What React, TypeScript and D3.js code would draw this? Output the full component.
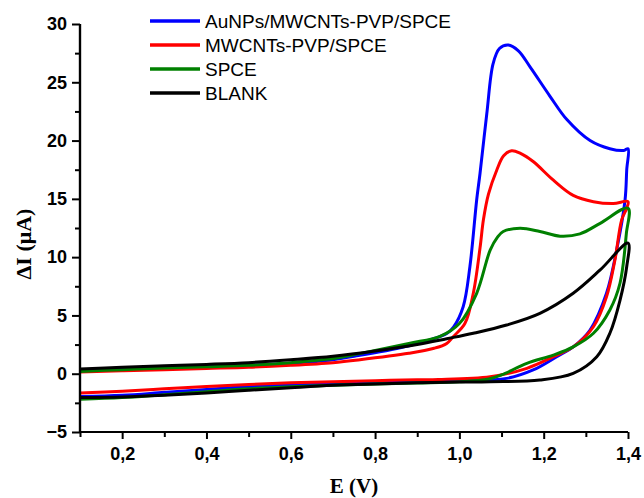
import React, { useEffect, useRef } from "react";
import * as d3 from "d3";

// legend / series
const seriesNames = ["AuNPs/MWCNTs-PVP/SPCE", "MWCNTs-PVP/SPCE", "SPCE", "BLANK"];
const seriesColors = ["#0000ff", "#ff0000", "#008000", "#000000"];

// each curve is one closed loop: forward scan then back scan (E in V, I in µA)
const auE = [0.1, 0.2, 0.3, 0.4, 0.5, 0.6, 0.7, 0.76, 0.88, 0.97, 0.986, 1.009, 1.025, 1.041, 1.049, 1.065, 1.08, 1.095, 1.116, 1.14, 1.168, 1.215, 1.255, 1.31, 1.357, 1.39, 1.4,
  1.397, 1.393, 1.373, 1.349, 1.31, 1.27, 1.231, 1.175, 1.112, 1.0, 0.9, 0.8, 0.7, 0.6, 0.5, 0.4, 0.3, 0.2, 0.1];
const auI = [0.25, 0.38, 0.5, 0.6, 0.72, 0.9, 1.2, 1.55, 2.4, 3.45, 4.0, 5.75, 9.2, 14.9, 17.2, 22.3, 26.6, 27.9, 28.2, 27.7, 26.3, 23.8, 21.8, 20.0, 19.3, 19.15, 19.3,
  17.5, 14.9, 10.6, 6.9, 3.75, 2.3, 1.46, 0.32, -0.4, -0.55, -0.65, -0.72, -0.82, -0.95, -1.1, -1.35, -1.6, -1.85, -1.95];

const mwE = [0.1, 0.2, 0.3, 0.4, 0.5, 0.6, 0.7, 0.76, 0.88, 0.94, 0.97, 0.986, 1.013, 1.033, 1.049, 1.057, 1.069, 1.089, 1.105, 1.124, 1.145, 1.175, 1.223, 1.27, 1.318, 1.365, 1.4,
  1.397, 1.385, 1.369, 1.349, 1.318, 1.27, 1.223, 1.16, 1.073, 0.95, 0.9, 0.8, 0.7, 0.6, 0.5, 0.4, 0.3, 0.2, 0.1];
const mwI = [0.15, 0.25, 0.35, 0.45, 0.55, 0.72, 0.95, 1.18, 1.75, 2.18, 2.6, 3.2, 4.3, 6.9, 10.8, 13.2, 15.4, 17.5, 18.7, 19.13, 18.9, 18.2, 16.6, 15.3, 14.76, 14.6, 14.76,
  14.2, 13.2, 9.76, 6.6, 4.03, 2.3, 1.46, 0.46, -0.26, -0.5, -0.52, -0.6, -0.68, -0.78, -0.92, -1.1, -1.3, -1.5, -1.65];

const spceE = [0.1, 0.2, 0.3, 0.4, 0.5, 0.6, 0.7, 0.76, 0.88, 0.954, 1.0, 1.041, 1.073, 1.09, 1.104, 1.144, 1.191, 1.239, 1.286, 1.334, 1.4,
  1.396, 1.381, 1.357, 1.318, 1.27, 1.223, 1.16, 1.1, 1.07, 1.0, 0.9, 0.8, 0.7, 0.6, 0.5, 0.4, 0.3, 0.2, 0.1];
const spceI = [0.2, 0.35, 0.5, 0.6, 0.72, 0.95, 1.3, 1.7, 2.6, 3.2, 4.3, 6.9, 10.6, 11.7, 12.2, 12.47, 12.2, 11.8, 12.0, 12.9, 14.2,
  12.0, 7.76, 5.47, 3.47, 2.3, 1.6, 0.89, -0.1, -0.45, -0.7, -0.8, -0.88, -0.98, -1.12, -1.3, -1.55, -1.8, -2.05, -2.2];

const blankE = [0.1, 0.2, 0.3, 0.4, 0.5, 0.6, 0.7, 0.8, 0.9, 0.97, 1.033, 1.112, 1.191, 1.27, 1.334, 1.4,
  1.397, 1.381, 1.357, 1.326, 1.27, 1.191, 1.073, 1.0, 0.9, 0.8, 0.7, 0.6, 0.5, 0.4, 0.3, 0.2, 0.1];
const blankI = [0.4, 0.55, 0.68, 0.8, 0.95, 1.2, 1.5, 1.95, 2.5, 3.0, 3.47, 4.18, 5.18, 6.9, 8.9, 11.2,
  9.2, 6.3, 3.47, 1.46, 0.03, -0.54, -0.68, -0.72, -0.78, -0.88, -1.0, -1.2, -1.42, -1.65, -1.85, -2.0, -2.05];

const xTicks = [0.2, 0.4, 0.6, 0.8, 1.0, 1.2, 1.4];
const xMinor = [0.1, 0.3, 0.5, 0.7, 0.9, 1.1, 1.3];
const yTicks = [-5, 0, 5, 10, 15, 20, 25, 30];
const yMinor = [-2.5, 2.5, 7.5, 12.5, 17.5, 22.5, 27.5];

const App = () => {
  const ref = useRef<SVGSVGElement>(null);

  useEffect(() => {
    const svg = d3.select(ref.current);
    svg.selectAll("*").remove();

    const left = 80, right = 628, top = 24, bottom = 432;
    const x = d3.scaleLinear().domain([0.1, 1.4]).range([left, right]);
    const y = d3.scaleLinear().domain([-5, 30]).range([bottom, top]);

    const loops = [
      { E: auE, I: auI },
      { E: mwE, I: mwI },
      { E: spceE, I: spceI },
      { E: blankE, I: blankI },
    ];

    const line = d3
      .line<[number, number]>()
      .x((d) => x(d[0]))
      .y((d) => y(d[1]))
      .curve(d3.curveCatmullRom.alpha(0.5));

    loops.forEach((s, i) => {
      const pts = s.E.map((e, k) => [e, s.I[k]] as [number, number]);
      svg
        .append("path")
        .attr("d", line(pts))
        .attr("fill", "none")
        .attr("stroke", seriesColors[i])
        .attr("stroke-width", 3)
        .attr("stroke-linejoin", "round");
    });

    const tickFont = (g: any) =>
      g
        .selectAll("text")
        .attr("font-family", "'Liberation Sans', Arial, sans-serif")
        .attr("font-weight", "bold")
        .attr("font-size", 18)
        .attr("fill", "#000");

    // x axis
    const gx = svg.append("g").attr("transform", `translate(0,${bottom})`);
    gx.call(
      d3.axisBottom(x).tickValues(xMinor).tickSize(5).tickFormat(() => "")
    );
    gx.append("g").call(
      d3
        .axisBottom(x)
        .tickValues(xTicks)
        .tickSize(7)
        .tickPadding(8)
        .tickFormat((d) => (d as number).toFixed(1).replace(".", ","))
    );
    gx.selectAll("path").attr("stroke-width", 2.2).attr("stroke", "#000");
    gx.selectAll("line").attr("stroke-width", 2).attr("stroke", "#000");
    tickFont(gx);
    gx.selectAll(".domain").attr("d", `M${left},0H${right}`);

    // y axis
    const gy = svg.append("g").attr("transform", `translate(${left},0)`);
    gy.call(
      d3.axisLeft(y).tickValues(yMinor).tickSize(5).tickFormat(() => "")
    );
    gy.append("g").call(
      d3.axisLeft(y).tickValues(yTicks).tickSize(8).tickPadding(5).tickFormat(d3.format("d"))
    );
    gy.selectAll("path").attr("stroke-width", 2.2).attr("stroke", "#000");
    gy.selectAll("line").attr("stroke-width", 2).attr("stroke", "#000");
    tickFont(gy);
    gy.selectAll(".domain").attr("d", `M0,${top}V${bottom}`);

    // axis titles
    svg
      .append("text")
      .attr("x", 354)
      .attr("y", 493)
      .attr("text-anchor", "middle")
      .attr("font-family", "'Liberation Serif', 'Times New Roman', serif")
      .attr("font-weight", "bold")
      .attr("font-size", 21)
      .text("E (V)");

    svg
      .append("text")
      .attr("transform", "translate(31,244) rotate(-90)")
      .attr("text-anchor", "middle")
      .attr("font-family", "'Liberation Serif', 'Times New Roman', serif")
      .attr("font-weight", "bold")
      .attr("font-size", 22)
      .text("ΔI (μA)");

    // legend
    const lg = svg.append("g");
    seriesNames.forEach((name, i) => {
      const ly = 21 + i * 24;
      lg.append("line")
        .attr("x1", 150)
        .attr("x2", 200)
        .attr("y1", ly)
        .attr("y2", ly)
        .attr("stroke", seriesColors[i])
        .attr("stroke-width", 3.5);
      lg.append("text")
        .attr("x", 205)
        .attr("y", ly + 7)
        .attr("font-family", "'Liberation Sans', Arial, sans-serif")
        .attr("font-size", 19)
        .attr("fill", "#000")
        .text(name);
    });
  }, []);

  return (
    <svg
      ref={ref}
      width={644}
      height={498}
      style={{ position: "absolute", left: 0, top: 0, background: "#fff" }}
    />
  );
};

export default App;
